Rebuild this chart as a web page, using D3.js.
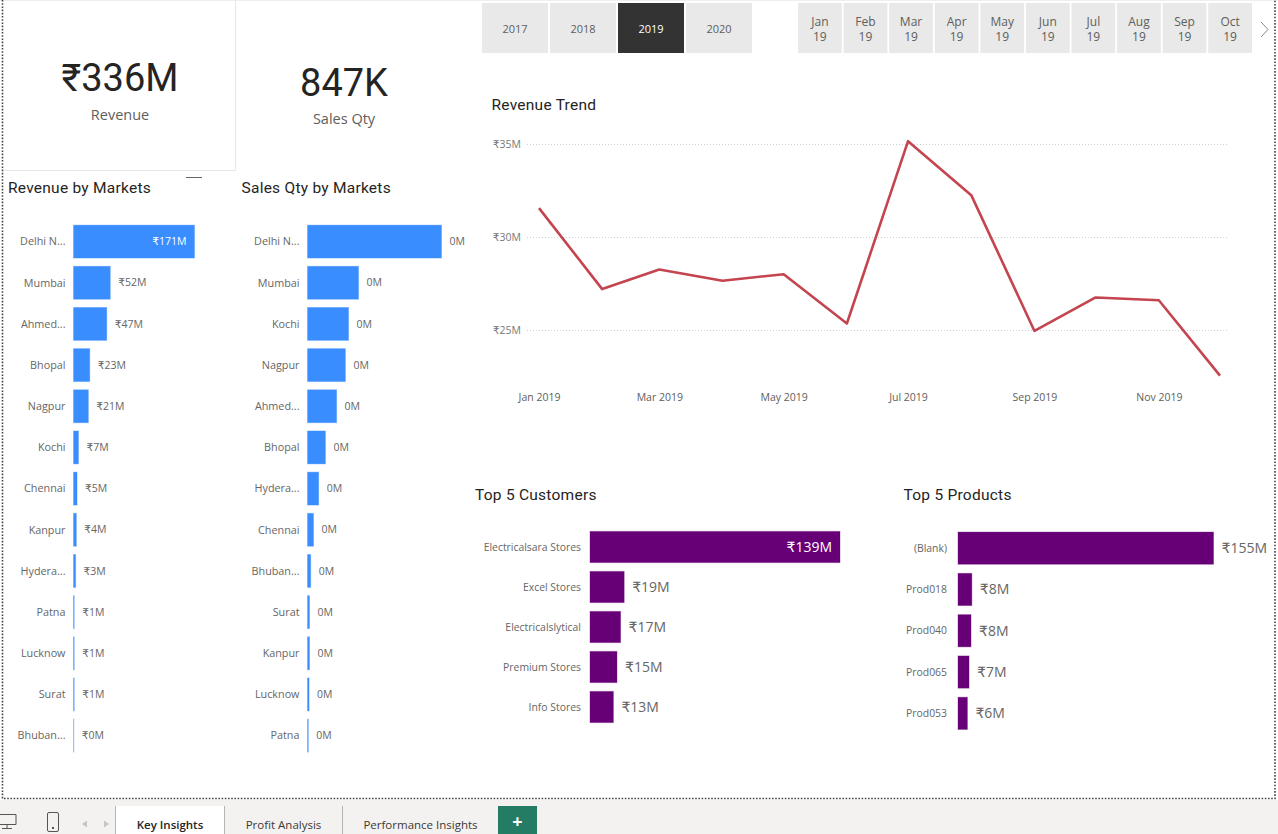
<!DOCTYPE html>
<html>
<head>
<meta charset="utf-8">
<script src="https://cdn.jsdelivr.net/npm/d3@7"></script>
<style>
  html, body { margin: 0; padding: 0; background: #fff; overflow: hidden; }
  svg { display: block; }
  text { font-family: "Open Sans", "DejaVu Sans", sans-serif; }
  .din, .din text { font-family: "Roboto", "DejaVu Sans", sans-serif; }
</style>
</head>
<body>
<svg id="chart" width="1278" height="834"></svg>
<script>
// data
const years = ["2017", "2018", "2019", "2020"];
const selectedYear = "2019";
const monthNames = ["Jan", "Feb", "Mar", "Apr", "May", "Jun", "Jul", "Aug", "Sep", "Oct"];

const revenueMarkets = ["Delhi N...", "Mumbai", "Ahmed...", "Bhopal", "Nagpur", "Kochi", "Chennai", "Kanpur", "Hydera...", "Patna", "Lucknow", "Surat", "Bhuban..."];
const revenueValues = [171, 52, 47, 23, 21, 7, 5, 4, 3, 1, 1, 1, 0.4];

const qtyMarkets = ["Delhi N...", "Mumbai", "Kochi", "Nagpur", "Ahmed...", "Bhopal", "Hydera...", "Chennai", "Bhuban...", "Surat", "Kanpur", "Lucknow", "Patna"];
const qtyValues = [0.336, 0.128, 0.103, 0.095, 0.073, 0.045, 0.028, 0.015, 0.008, 0.005, 0.005, 0.004, 0.002];

const trendMonths = ["2019-01", "2019-02", "2019-03", "2019-04", "2019-05", "2019-06", "2019-07", "2019-08", "2019-09", "2019-10", "2019-11", "2019-12"];
const trendValues = [31.55, 27.2, 28.25, 27.65, 28.0, 25.35, 35.15, 32.25, 24.95, 26.75, 26.6, 22.55];
const trendTicks = [25, 30, 35];

const customers = ["Electricalsara Stores", "Excel Stores", "Electricalslytical", "Premium Stores", "Info Stores"];
const customerValues = [139, 19, 17, 15, 13];

const products = ["(Blank)", "Prod018", "Prod040", "Prod065", "Prod053"];
const productValues = [155, 8.4, 7.9, 6.7, 5.7];

const tabs = ["Key Insights", "Profit Analysis", "Performance Insights"];

const BLUE = "#3a8dff";
const PURPLE = "#670077";
const RED = "#c4444f";

const svg = d3.select("#chart");
const rupee = (v) => "₹" + d3.format(".0f")(v) + "M";
const plainM = (v) => d3.format(".0f")(v) + "M";

function drawFrame() {
  svg.append("line")
    .attr("x1", 0).attr("x2", 1278).attr("y1", 0.5).attr("y2", 0.5)
    .attr("stroke", "#efefef");
  svg.append("path")
    .attr("d", "M2.5,0V798.5H1275V0")
    .attr("fill", "none")
    .attr("stroke", "#444")
    .attr("stroke-width", 1.6)
    .attr("stroke-dasharray", "1.6 1.6");
  // revenue card outline
  svg.append("path")
    .attr("d", "M4,170.5H235.5V0")
    .attr("fill", "none")
    .attr("stroke", "#e6e6e6");
  svg.append("line")
    .attr("x1", 186).attr("x2", 202).attr("y1", 177.5).attr("y2", 177.5)
    .attr("stroke", "#666");
}

function drawCard(label, value, cx, valueY, labelY) {
  svg.append("text").attr("class", "din")
    .attr("x", cx).attr("y", valueY)
    .attr("text-anchor", "middle")
    .attr("font-size", 38)
    .attr("fill", "#252423")
    .text(value);
  svg.append("text")
    .attr("x", cx).attr("y", labelY)
    .attr("text-anchor", "middle")
    .attr("font-size", 14.5)
    .attr("fill", "#605e5c")
    .text(label);
}

function drawTitle(text, x, y) {
  svg.append("text").attr("class", "din")
    .attr("x", x).attr("y", y)
    .attr("font-size", 15.5)
    .attr("letter-spacing", 0.25)
    .attr("fill", "#252423")
    .text(text);
}

function drawSlicers() {
  const yearX = d3.scaleBand().domain(years).range([482, 752]).paddingInner(0.03);
  const yearGroup = svg.append("g");
  yearGroup.selectAll("rect").data(years).enter().append("rect")
    .attr("x", (d) => yearX(d))
    .attr("y", 3)
    .attr("width", yearX.bandwidth())
    .attr("height", 50)
    .attr("fill", (d) => (d === selectedYear ? "#333333" : "#e9e9e9"));
  yearGroup.selectAll("text").data(years).enter().append("text")
    .attr("x", (d) => yearX(d) + yearX.bandwidth() / 2)
    .attr("y", 33)
    .attr("text-anchor", "middle")
    .attr("font-size", 11)
    .attr("fill", (d) => (d === selectedYear ? "#fff" : "#605e5c"))
    .text((d) => d);

  const monthX = d3.scaleBand().domain(monthNames).range([798, 1252]).paddingInner(0.04);
  const monthGroup = svg.append("g");
  monthGroup.selectAll("rect").data(monthNames).enter().append("rect")
    .attr("x", (d) => monthX(d))
    .attr("y", 3)
    .attr("width", monthX.bandwidth())
    .attr("height", 50)
    .attr("fill", "#e9e9e9");
  const monthText = monthGroup.selectAll("text").data(monthNames).enter().append("text")
    .attr("text-anchor", "middle")
    .attr("font-size", 12)
    .attr("fill", "#605e5c");
  monthText.append("tspan")
    .attr("x", (d) => monthX(d) + monthX.bandwidth() / 2)
    .attr("y", 26)
    .text((d) => d);
  monthText.append("tspan")
    .attr("x", (d) => monthX(d) + monthX.bandwidth() / 2)
    .attr("y", 41)
    .text("19");

  svg.append("path")
    .attr("d", "M1261,22L1268,29.5L1261,37")
    .attr("fill", "none")
    .attr("stroke", "#8a8a8a");
}

function drawTrend() {
  const parse = d3.timeParse("%Y-%m");
  const dates = trendMonths.map(parse);
  const x = d3.scaleTime().domain([dates[0], dates[dates.length - 1]]).range([539, 1220]);
  const y = d3.scaleLinear().domain([25, 35]).range([330, 144]);

  const yAxis = d3.axisLeft(y)
    .tickValues(trendTicks)
    .tickSize(-(1228 - 527))
    .tickFormat((d) => "₹" + d + "M");
  const gy = svg.append("g").attr("transform", "translate(527,0)").call(yAxis);
  gy.select(".domain").remove();
  gy.selectAll(".tick line")
    .attr("stroke", "#d0d0d0")
    .attr("stroke-dasharray", "1 2");
  gy.selectAll(".tick text")
    .attr("x", -6)
    .attr("font-family", "Open Sans")
    .attr("font-size", 10.5)
    .attr("fill", "#777");

  const xAxis = d3.axisBottom(x)
    .tickValues(dates.filter((d, i) => i % 2 === 0))
    .tickSize(0)
    .tickFormat(d3.timeFormat("%b %Y"));
  const gx = svg.append("g").attr("transform", "translate(0,391)").call(xAxis);
  gx.select(".domain").remove();
  gx.selectAll(".tick text")
    .attr("font-family", "Open Sans")
    .attr("font-size", 10.5)
    .attr("fill", "#605e5c");

  const line = d3.line().x((d, i) => x(dates[i])).y((d) => y(d));
  svg.append("path")
    .datum(trendValues)
    .attr("d", line)
    .attr("fill", "none")
    .attr("stroke", RED)
    .attr("stroke-width", 2.6)
    .attr("stroke-linejoin", "round");
}

function drawBars(opts) {
  const y = d3.scaleBand()
    .domain(opts.names)
    .range(opts.yRange)
    .paddingInner(opts.gap)
    .paddingOuter(opts.gap / 2);
  const x = d3.scaleLinear()
    .domain([0, d3.max(opts.values)])
    .range([opts.left, opts.left + opts.maxWidth]);

  const g = svg.append("g");
  const rows = g.selectAll("g").data(opts.names).enter().append("g");

  rows.append("rect")
    .attr("x", opts.left)
    .attr("y", (d) => y(d))
    .attr("width", (d, i) => x(opts.values[i]) - opts.left)
    .attr("height", y.bandwidth())
    .attr("fill", opts.color)
    .attr("stroke", opts.color)
    .attr("stroke-opacity", 0.35);

  rows.append("text")
    .attr("x", opts.left - opts.nameGap)
    .attr("y", (d) => y(d) + y.bandwidth() / 2)
    .attr("dy", "0.35em")
    .attr("text-anchor", "end")
    .attr("font-size", opts.nameSize)
    .attr("fill", "#666")
    .text((d) => d);

  rows.append("text")
    .attr("x", (d, i) => x(opts.values[i]) + (opts.insideFirst && i === 0 ? -8 : 8))
    .attr("y", (d) => y(d) + y.bandwidth() / 2)
    .attr("dy", "0.35em")
    .attr("text-anchor", (d, i) => (opts.insideFirst && i === 0 ? "end" : "start"))
    .attr("font-size", opts.valueSize)
    .attr("fill", (d, i) => (opts.insideFirst && i === 0 ? "#fff" : "#666"))
    .text((d, i) => opts.format(opts.values[i]));
}

function drawFooter() {
  svg.append("rect")
    .attr("x", 0).attr("y", 800).attr("width", 1278).attr("height", 34)
    .attr("fill", "#f3f2f1");

  const tabX = [116, 225, 343];
  const tabEnd = [224, 342, 498];
  const g = svg.append("g");
  tabs.forEach((name, i) => {
    if (i === 0) {
      g.append("rect")
        .attr("x", tabX[i]).attr("y", 806)
        .attr("width", tabEnd[i] - tabX[i]).attr("height", 28)
        .attr("fill", "#fff");
    }
    g.append("line")
      .attr("x1", tabX[i] - 0.5).attr("x2", tabX[i] - 0.5)
      .attr("y1", 806).attr("y2", 834)
      .attr("stroke", "#b5b5b5");
    g.append("text")
      .attr("x", (tabX[i] + tabEnd[i]) / 2)
      .attr("y", 829)
      .attr("text-anchor", "middle")
      .attr("font-size", 11.5)
      .attr("font-weight", i === 0 ? 600 : 400)
      .attr("fill", i === 0 ? "#252423" : "#3b3a39")
      .text(name);
  });
  g.append("line")
    .attr("x1", 224.5).attr("x2", 224.5).attr("y1", 806).attr("y2", 834)
    .attr("stroke", "#b5b5b5");

  g.append("rect")
    .attr("x", 498).attr("y", 806).attr("width", 39).attr("height", 28)
    .attr("fill", "#237c63");
  g.append("text")
    .attr("x", 517.5).attr("y", 828)
    .attr("text-anchor", "middle")
    .attr("font-size", 18)
    .attr("font-weight", 700)
    .attr("fill", "#fff")
    .text("+");

  // desktop and phone view icons, page arrows
  g.append("path")
    .attr("d", "M-2,814.5H16V824.5H-2M7,824.5V828M2,828.5H12")
    .attr("fill", "none").attr("stroke", "#555");
  g.append("rect")
    .attr("x", 47.5).attr("y", 812.5).attr("width", 11).attr("height", 19).attr("rx", 1.5)
    .attr("fill", "none").attr("stroke", "#555");
  g.append("rect")
    .attr("x", 52).attr("y", 827).attr("width", 2).attr("height", 2)
    .attr("fill", "#555");
  g.append("path").attr("d", "M87,820.5L82,824L87,827.5Z").attr("fill", "#c8c6c4");
  g.append("path").attr("d", "M104,820.5L109,824L104,827.5Z").attr("fill", "#c8c6c4");
}

drawFrame();
drawCard("Revenue", "₹336M", 120, 91, 120);
drawCard("Sales Qty", "847K", 344, 96, 124);
drawSlicers();

drawTitle("Revenue by Markets", 8, 193);
drawTitle("Sales Qty by Markets", 241.5, 193);
drawTitle("Revenue Trend", 491.5, 110);
drawTitle("Top 5 Customers", 475, 500);
drawTitle("Top 5 Products", 903.5, 500);

drawBars({
  names: revenueMarkets, values: revenueValues, color: BLUE, format: rupee,
  left: 73.5, maxWidth: 121, yRange: [221, 756.2], gap: 0.2,
  nameSize: 10.8, valueSize: 10.5, nameGap: 8, insideFirst: true,
});
drawBars({
  names: qtyMarkets, values: qtyValues, color: BLUE, format: plainM,
  left: 307.5, maxWidth: 134, yRange: [221, 756.2], gap: 0.2,
  nameSize: 10.8, valueSize: 10.5, nameGap: 8, insideFirst: false,
});
drawTrend();
drawBars({
  names: customers, values: customerValues, color: PURPLE, format: rupee,
  left: 590, maxWidth: 250, yRange: [527, 727], gap: 0.22,
  nameSize: 10.4, valueSize: 14, nameGap: 9, insideFirst: true,
});
drawBars({
  names: products, values: productValues, color: PURPLE, format: rupee,
  left: 958, maxWidth: 255.5, yRange: [527.5, 734], gap: 0.22,
  nameSize: 10.4, valueSize: 14, nameGap: 11, insideFirst: false,
});
drawFooter();
</script>
</body>
</html>
